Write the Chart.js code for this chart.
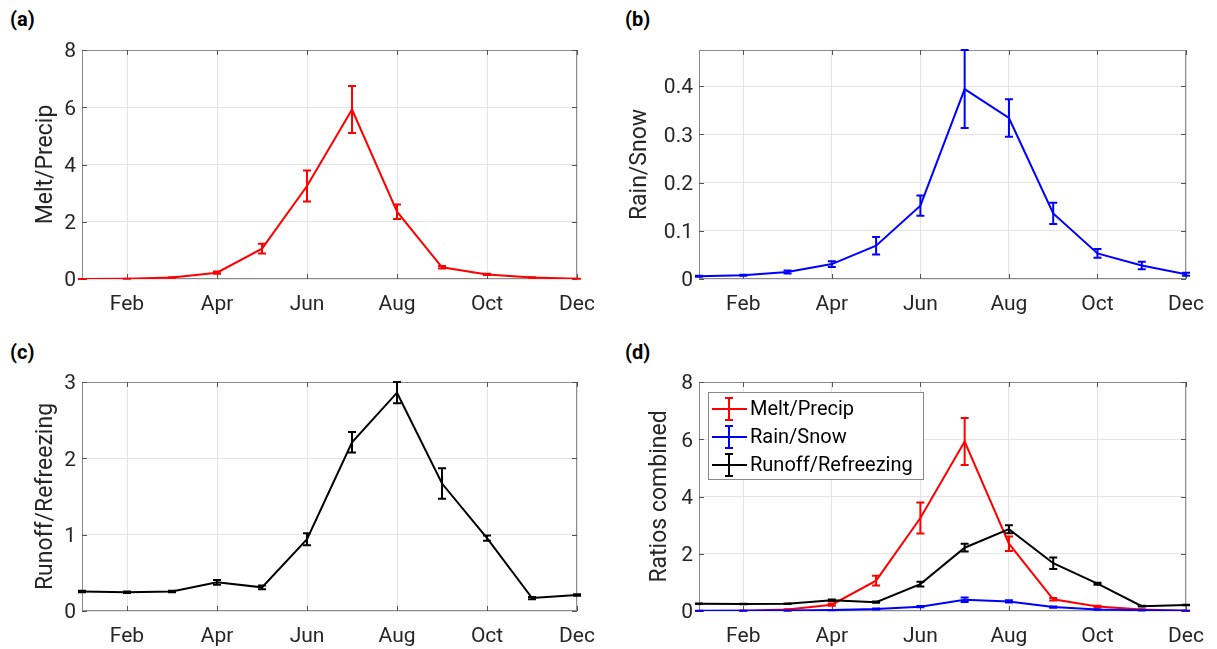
<!DOCTYPE html>
<html>
<head>
<meta charset="utf-8">
<script src="https://cdn.jsdelivr.net/npm/chart.js@4.4.1/dist/chart.umd.min.js"></script>
<style>
  body { margin: 0; background: #fff; width: 1217px; height: 649px; position: relative; overflow: hidden; font-family: Roboto, sans-serif; }
  canvas { position: absolute; }
  .tag { position: absolute; font: bold 20px Roboto, sans-serif; color: #000; }
</style>
</head>
<body>
<div class="tag" style="left:10px;top:7px">(a)</div>
<div class="tag" style="left:625px;top:7px">(b)</div>
<div class="tag" style="left:10px;top:340px">(c)</div>
<div class="tag" style="left:625px;top:340px">(d)</div>

<canvas id="chartA" width="608" height="324" style="left:0;top:0"></canvas>
<canvas id="chartB" width="609" height="324" style="left:608px;top:0"></canvas>
<canvas id="chartC" width="608" height="325" style="left:0;top:324px"></canvas>
<canvas id="chartD" width="609" height="325" style="left:608px;top:324px"></canvas>

<script>
// ---- data ----
const months = ["Jan", "Feb", "Mar", "Apr", "May", "Jun", "Jul", "Aug", "Sep", "Oct", "Nov", "Dec"];
const monthTicks = [2, 4, 6, 8, 10, 12];

const meltPrecip    = [0.00, 0.01, 0.05, 0.22, 1.06, 3.25, 5.92, 2.35, 0.41, 0.16, 0.05, 0.01];
const meltPrecipErr = [0.00, 0.00, 0.01, 0.04, 0.17, 0.54, 0.82, 0.25, 0.04, 0.02, 0.01, 0.00];

const rainSnow    = [0.0055, 0.0076, 0.0145, 0.031, 0.069, 0.152, 0.394, 0.334, 0.136, 0.053, 0.028, 0.010];
const rainSnowErr = [0.001, 0.001, 0.003, 0.006, 0.018, 0.021, 0.081, 0.039, 0.022, 0.009, 0.008, 0.003];

const runoffRefreezing    = [0.255, 0.245, 0.255, 0.375, 0.31, 0.94, 2.21, 2.86, 1.67, 0.955, 0.17, 0.21];
const runoffRefreezingErr = [0.01, 0.01, 0.01, 0.03, 0.025, 0.08, 0.135, 0.14, 0.2, 0.035, 0.015, 0.01];

const yTicksA = [0, 2, 4, 6, 8];
const yTicksB = [0, 0.1, 0.2, 0.3, 0.4];
const yTicksC = [0, 1, 2, 3];
const yTicksD = [0, 2, 4, 6, 8];

const TEXT = "#262626";
const BOX = "#8a8a8a";
const GRID = "#e4e4e4";

// ---- plugins ----
const boxPlugin = {
  id: "box",
  beforeDatasetsDraw(chart) {
    const { ctx, chartArea: a, scales: { x, y } } = chart;
    ctx.save();
    ctx.strokeStyle = BOX;
    ctx.lineWidth = 1;
    ctx.strokeRect(a.left + 0.5, a.top + 0.5, a.right - a.left - 1, a.bottom - a.top - 1);
    // inner tick marks
    ctx.strokeStyle = "#555";
    ctx.beginPath();
    x.ticks.forEach((t) => {
      const px = Math.round(x.getPixelForValue(t.value)) + 0.5;
      ctx.moveTo(px, a.top); ctx.lineTo(px, a.top + 5);
      ctx.moveTo(px, a.bottom); ctx.lineTo(px, a.bottom - 5);
    });
    y.ticks.forEach((t) => {
      const py = Math.round(y.getPixelForValue(t.value)) + 0.5;
      ctx.moveTo(a.left, py); ctx.lineTo(a.left + 5, py);
      ctx.moveTo(a.right, py); ctx.lineTo(a.right - 5, py);
    });
    ctx.stroke();
    ctx.restore();
  },
};

const errorBars = {
  id: "errorBars",
  afterDatasetsDraw(chart) {
    const { ctx, scales: { x, y } } = chart;
    chart.data.datasets.forEach((ds) => {
      if (!ds.errors) return;
      ctx.save();
      ctx.strokeStyle = ds.borderColor;
      ctx.lineWidth = 2;
      ctx.beginPath();
      ds.data.forEach((pt, j) => {
        const e = ds.errors[j];
        const px = x.getPixelForValue(pt.x);
        const top = y.getPixelForValue(pt.y + e);
        const bot = y.getPixelForValue(pt.y - e);
        ctx.moveTo(px, top); ctx.lineTo(px, bot);
        ctx.moveTo(px - 4, top); ctx.lineTo(px + 4, top);
        ctx.moveTo(px - 4, bot); ctx.lineTo(px + 4, bot);
      });
      ctx.stroke();
      ctx.restore();
    });
  },
};

const errorLegend = {
  id: "errorLegend",
  afterDraw(chart) {
    if (!chart.options.plugins.errorLegend) return;
    const { ctx, chartArea: a } = chart;
    const bx = a.left + 9, by = a.top + 10, bw = 215, bh = 87;
    ctx.save();
    ctx.fillStyle = "#fff";
    ctx.fillRect(bx, by, bw, bh);
    ctx.strokeStyle = BOX;
    ctx.lineWidth = 1;
    ctx.strokeRect(bx + 0.5, by + 0.5, bw, bh);
    ctx.font = "20px Roboto";
    ctx.textBaseline = "middle";
    chart.data.datasets.forEach((ds, i) => {
      const cy = by + 17 + i * 28;
      const cx = bx + 21;
      ctx.strokeStyle = ds.borderColor;
      ctx.lineWidth = 2;
      ctx.beginPath();
      ctx.moveTo(bx + 4, cy); ctx.lineTo(bx + 39, cy);
      ctx.moveTo(cx, cy - 11); ctx.lineTo(cx, cy + 11);
      ctx.moveTo(cx - 4, cy - 11); ctx.lineTo(cx + 4, cy - 11);
      ctx.moveTo(cx - 4, cy + 11); ctx.lineTo(cx + 4, cy + 11);
      ctx.stroke();
      ctx.fillStyle = "#000";
      ctx.fillText(ds.label, bx + 42, cy + 1);
    });
    ctx.restore();
  },
};

// ---- helpers ----
function series(label, values, errors, color, order) {
  return {
    label: label,
    data: values.map((v, i) => ({ x: i + 1, y: v })),
    errors: errors,
    borderColor: color,
    borderWidth: 2,
    pointRadius: 0,
    tension: 0,
    fill: false,
    order: order,
  };
}

function makeChart(id, datasets, opts) {
  return new Chart(document.getElementById(id), {
    type: "line",
    data: { datasets: datasets },
    options: {
      responsive: false,
      animation: false,
      layout: { padding: { top: opts.top, right: opts.right, left: 0, bottom: 0 } },
      plugins: { legend: { display: false }, tooltip: { enabled: false }, errorLegend: opts.legend || false },
      scales: {
        x: {
          type: "linear",
          min: 1,
          max: 12,
          afterBuildTicks: (s) => { s.ticks = monthTicks.map((v) => ({ value: v })); },
          afterFit: (s) => { s.height = opts.xHeight; },
          grid: { color: GRID, drawTicks: false },
          border: { display: false },
          ticks: {
            color: TEXT,
            padding: 13,
            maxRotation: 0,
            font: { family: "Roboto", size: 21 },
            callback: (v) => months[v - 1],
          },
        },
        y: {
          min: opts.yMin,
          max: opts.yMax,
          afterBuildTicks: (s) => { s.ticks = opts.yTicks.map((v) => ({ value: v })); },
          afterFit: (s) => { s.width = opts.yWidth; },
          grid: { color: GRID, drawTicks: false },
          border: { display: false },
          ticks: {
            color: TEXT,
            padding: 6,
            labelOffset: 2,
            font: { family: "Roboto", size: 21 },
            callback: (v) => String(v),
          },
          title: {
            display: true,
            text: opts.yTitle,
            color: TEXT,
            font: { family: "Roboto", size: 23 },
            padding: { top: opts.titlePad, bottom: 0 },
          },
        },
      },
    },
    plugins: [boxPlugin, errorBars, errorLegend],
  });
}

// ---- charts ----
makeChart("chartA", [series("Melt/Precip", meltPrecip, meltPrecipErr, "#ff0000", 0)], {
  top: 50, right: 29, xHeight: 45, yWidth: 82, yMin: 0, yMax: 8, yTicks: yTicksA,
  yTitle: "Melt/Precip", titlePad: 32,
});

makeChart("chartB", [series("Rain/Snow", rainSnow, rainSnowErr, "#0000ff", 0)], {
  top: 50, right: 26, xHeight: 45, yWidth: 91, yMin: 0, yMax: 0.475, yTicks: yTicksB,
  yTitle: "Rain/Snow", titlePad: 18,
});

makeChart("chartC", [series("Runoff/Refreezing", runoffRefreezing, runoffRefreezingErr, "#000000", 0)], {
  top: 58, right: 29, xHeight: 38, yWidth: 82, yMin: 0, yMax: 3, yTicks: yTicksC,
  yTitle: "Runoff/Refreezing", titlePad: 32,
});

makeChart("chartD", [
  series("Melt/Precip", meltPrecip, meltPrecipErr, "#ff0000", 2),
  series("Rain/Snow", rainSnow, rainSnowErr, "#0000ff", 1),
  series("Runoff/Refreezing", runoffRefreezing, runoffRefreezingErr, "#000000", 0),
], {
  top: 58, right: 26, xHeight: 38, yWidth: 91, yMin: 0, yMax: 8, yTicks: yTicksD,
  yTitle: "Ratios combined", titlePad: 38, legend: true,
});
</script>
</body>
</html>
